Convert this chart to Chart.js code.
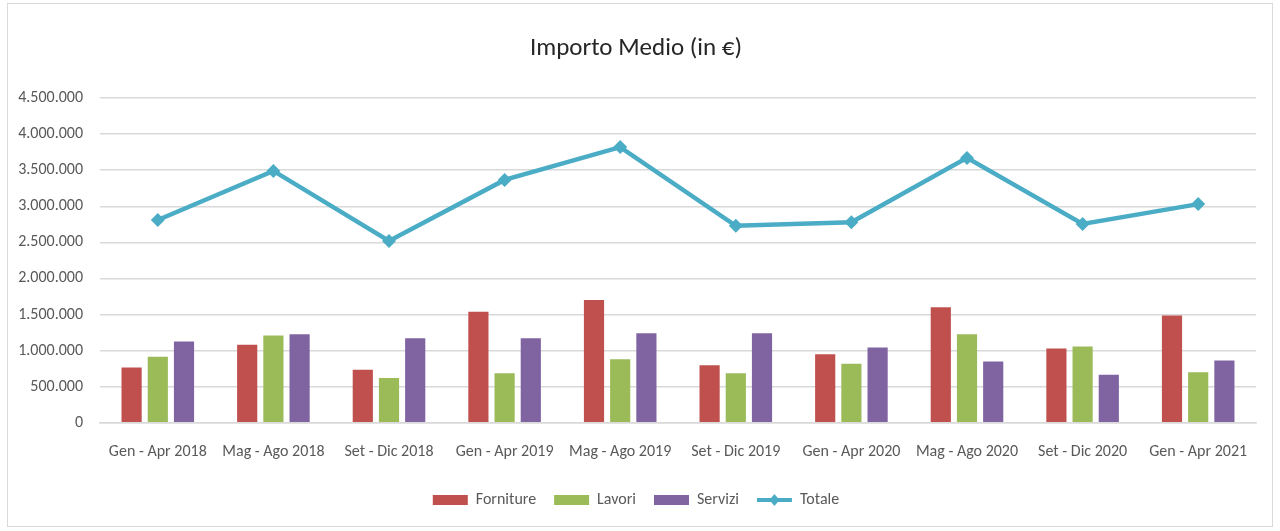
<!DOCTYPE html>
<html>
<head>
<meta charset="utf-8">
<script src="https://cdn.jsdelivr.net/npm/chart.js@4"></script>
<style>
  html, body { margin: 0; padding: 0; background: #fff; }
  #wrap { position: absolute; left: 7px; top: 3px; width: 1266px; height: 524px; border: 1px solid #d9d9d9; box-sizing: border-box; }
  #importoChart { display: block; }
</style>
</head>
<body>
<div id="wrap"><canvas id="importoChart" width="1264" height="522"></canvas></div>
<script>
// periodi (quadrimestri)
const periodi = ["Gen - Apr 2018", "Mag - Ago 2018", "Set - Dic 2018", "Gen - Apr 2019", "Mag - Ago 2019",
  "Set - Dic 2019", "Gen - Apr 2020", "Mag - Ago 2020", "Set - Dic 2020", "Gen - Apr 2021"];

const forniture = [766000, 1080000, 734000, 1537000, 1700000, 799000, 951000, 1602000, 1029000, 1486000];
const lavori    = [914000, 1209000, 619000, 688000, 882000, 688000, 817000, 1228000, 1057000, 702000];
const servizi   = [1126000, 1228000, 1173000, 1173000, 1242000, 1242000, 1043000, 849000, 665000, 863000];
const totale    = [2810000, 3490000, 2520000, 3365000, 3820000, 2730000, 2780000, 3670000, 2755000, 3030000];

const yMax = 4500000;
const yStep = 500000;

const FONT = "Carlito, 'Liberation Sans Narrow', 'Open Sans', sans-serif";

function fmt(v) {
  return String(Math.round(v)).replace(/\B(?=(\d{3})+(?!\d))/g, '.');
}

// disegna il rombo sul simbolo "Totale" della legenda
const legendDiamond = {
  id: 'legendDiamond',
  afterDraw(chart) {
    const lg = chart.legend;
    if (!lg || !lg.legendHitBoxes || !lg.legendHitBoxes[3]) return;
    const hb = lg.legendHitBoxes[3];
    const bw = lg.options.labels.pointStyleWidth;
    const cx = hb.left + bw / 2;
    const cy = hb.top + hb.height / 2;
    const c = chart.ctx;
    c.save();
    c.fillStyle = '#4BACC6';
    c.beginPath();
    c.moveTo(cx, cy - 6);
    c.lineTo(cx + 5, cy);
    c.lineTo(cx, cy + 6);
    c.lineTo(cx - 5, cy);
    c.closePath();
    c.fill();
    c.restore();
  }
};

const ctx = document.getElementById('importoChart').getContext('2d');
new Chart(ctx, {
  data: {
    labels: periodi,
    datasets: [
      { type: 'line', label: 'Totale', data: totale, borderColor: '#4BACC6', backgroundColor: '#4BACC6',
        borderWidth: 4.5, pointStyle: 'rectRot', pointRadius: 7, pointBorderWidth: 0,
        pointBackgroundColor: '#4BACC6', tension: 0, order: 0 },
      { type: 'bar', label: 'Forniture', data: forniture, backgroundColor: '#C0504D', order: 1,
        categoryPercentage: 0.68, barPercentage: 0.77 },
      { type: 'bar', label: 'Lavori', data: lavori, backgroundColor: '#9BBB59', order: 1,
        categoryPercentage: 0.68, barPercentage: 0.77 },
      { type: 'bar', label: 'Servizi', data: servizi, backgroundColor: '#8064A2', order: 1,
        categoryPercentage: 0.68, barPercentage: 0.77 }
    ]
  },
  options: {
    responsive: false,
    animation: false,
    layout: { padding: { left: 8, right: 16, top: 0, bottom: 8 } },
    plugins: {
      title: {
        display: true,
        text: 'Importo Medio (in €)',
        color: '#262626',
        font: { family: FONT, size: 25, weight: 'normal' },
        padding: { top: 30, bottom: 34 }
      },
      legend: {
        position: 'bottom',
        labels: {
          color: '#595959',
          font: { family: FONT, size: 16 },
          usePointStyle: true,
          pointStyleWidth: 35,
          boxHeight: 10,
          padding: 18,
          sort: (a, b) => ['Forniture', 'Lavori', 'Servizi', 'Totale'].indexOf(a.text) -
                          ['Forniture', 'Lavori', 'Servizi', 'Totale'].indexOf(b.text),
          generateLabels(chart) {
            const items = Chart.defaults.plugins.legend.labels.generateLabels(chart);
            items.forEach(it => {
              if (it.text === 'Totale') {
                it.pointStyle = 'line';
                it.strokeStyle = '#4BACC6';
                it.lineWidth = 4;
              } else {
                it.pointStyle = 'rect';
                it.lineWidth = 0;
              }
            });
            return items;
          }
        }
      },
      tooltip: { enabled: false }
    },
    scales: {
      x: {
        grid: { display: false, drawTicks: false },
        border: { color: '#d9d9d9', width: 1.5 },
        ticks: { color: '#595959', font: { family: FONT, size: 16 }, padding: 20, maxRotation: 0 },
        afterFit: (scale) => { scale.height -= 8; }
      },
      y: {
        min: 0,
        max: yMax,
        grid: { color: '#d9d9d9', lineWidth: 1.5, drawTicks: false },
        border: { display: false },
        ticks: { stepSize: yStep, color: '#595959', font: { family: FONT, size: 16 }, padding: 17,
          callback: v => fmt(v) },
        afterFit: (scale) => { scale.width = 84; }
      }
    }
  },
  plugins: [legendDiamond]
});
</script>
</body>
</html>
